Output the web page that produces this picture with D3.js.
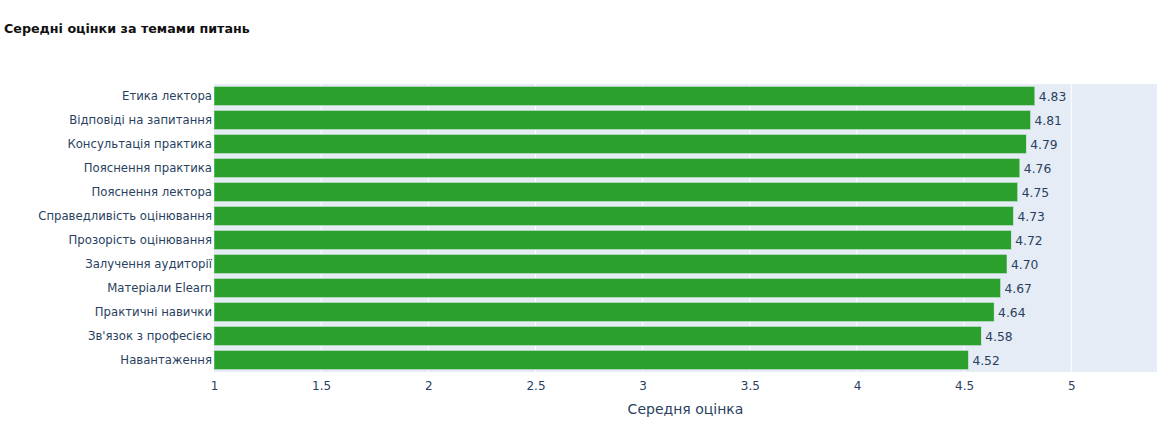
<!DOCTYPE html>
<html>
<head>
<meta charset="utf-8">
<script src="https://cdn.jsdelivr.net/npm/d3@7"></script>
<style>
  body { margin: 0; background: #fff; }
  text { font-family: "DejaVu Sans", Verdana, sans-serif; }
</style>
</head>
<body>
<div id="chart"></div>
<script>
// data, top to bottom as drawn
const topics = ["Етика лектора", "Відповіді на запитання", "Консультація практика",
  "Пояснення практика", "Пояснення лектора", "Справедливість оцінювання",
  "Прозорість оцінювання", "Залучення аудиторії", "Матеріали Elearn",
  "Практичні навички", "Зв'язок з професією", "Навантаження"];
const scores = [4.83, 4.81, 4.79, 4.76, 4.75, 4.73, 4.72, 4.70, 4.67, 4.64, 4.58, 4.52];
const xTicks = [1, 1.5, 2, 2.5, 3, 3.5, 4, 4.5, 5];

const width = 1163, height = 423;
const margin = { top: 84, right: 6, bottom: 51, left: 214 };

const svg = d3.select("#chart").append("svg")
    .attr("width", width)
    .attr("height", height);

const x = d3.scaleLinear()
    .domain([1, 5.4])
    .range([margin.left, width - margin.right]);

const y = d3.scaleBand()
    .domain(topics)
    .range([margin.top, height - margin.bottom])
    .paddingInner(0.2)
    .paddingOuter(0.1);

// plot background
svg.append("rect")
    .attr("x", margin.left)
    .attr("y", margin.top)
    .attr("width", x.range()[1] - x.range()[0])
    .attr("height", y.range()[1] - y.range()[0])
    .attr("fill", "#e5ecf6");

// grid lines
svg.append("g")
    .selectAll("line")
    .data(xTicks.slice(1))
    .join("line")
    .attr("x1", d => x(d)).attr("x2", d => x(d))
    .attr("y1", margin.top).attr("y2", height - margin.bottom)
    .attr("stroke", "#fff")
    .attr("stroke-width", 1);

// bars
svg.append("g")
    .selectAll("rect")
    .data(scores)
    .join("rect")
    .attr("x", x(1))
    .attr("y", (d, i) => y(topics[i]))
    .attr("width", d => x(d) - x(1))
    .attr("height", y.bandwidth())
    .attr("fill", "#2ca02c")
    .attr("stroke", "#e5ecf6")
    .attr("stroke-width", 0.5);

// value labels
svg.append("g")
    .selectAll("text")
    .data(scores)
    .join("text")
    .attr("x", d => x(d) + 4)
    .attr("y", (d, i) => y(topics[i]) + y.bandwidth() / 2)
    .attr("dy", "0.38em")
    .attr("fill", "#2a3f5f")
    .style("font-size", "12.3px")
    .text(d => d.toFixed(2));

// y axis labels
const yAxis = svg.append("g")
    .attr("transform", `translate(${margin.left},0)`)
    .call(d3.axisLeft(y).tickSize(0).tickPadding(2));
yAxis.select(".domain").remove();
yAxis.selectAll("text")
    .attr("fill", "#2a3f5f")
    .style("font-size", "11.7px")
    .style("font-family", '"DejaVu Sans", Verdana, sans-serif');

// x axis
const xAxis = svg.append("g")
    .attr("transform", `translate(0,${height - margin.bottom})`)
    .call(d3.axisBottom(x).tickValues(xTicks).tickFormat(d3.format("")).tickSize(0).tickPadding(9));
xAxis.select(".domain").remove();
xAxis.selectAll("text")
    .attr("fill", "#2a3f5f")
    .style("font-size", "12px")
    .style("font-family", '"DejaVu Sans", Verdana, sans-serif');

// axis title
svg.append("text")
    .attr("x", (x.range()[0] + x.range()[1]) / 2)
    .attr("y", 414)
    .attr("text-anchor", "middle")
    .attr("fill", "#2a3f5f")
    .style("font-size", "14px")
    .text("Середня оцінка");

// chart title
svg.append("text")
    .attr("x", 4)
    .attr("y", 33)
    .attr("fill", "#111")
    .style("font-size", "12.7px")
    .style("font-weight", "bold")
    .text("Середні оцінки за темами питань");
</script>
</body>
</html>
